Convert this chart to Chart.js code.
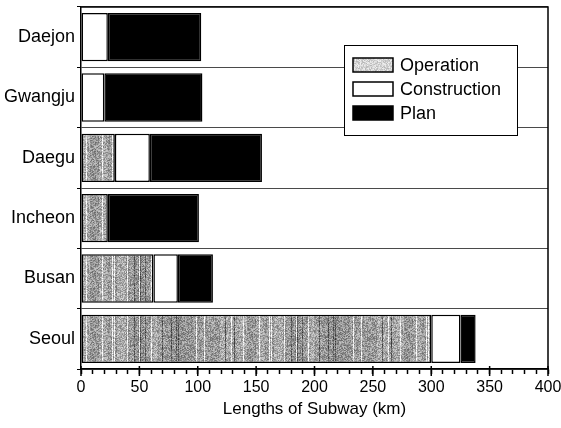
<!DOCTYPE html>
<html>
<head>
<meta charset="utf-8">
<script src="https://cdn.jsdelivr.net/npm/chart.js@4/dist/chart.umd.min.js"></script>
<style>
  html, body { margin: 0; padding: 0; background: #fff; }
  #wrap { width: 561px; height: 428px; }
</style>
</head>
<body>
<div id="wrap"><canvas id="c" width="561" height="428"></canvas></div>
<script>
// Subway lengths by city (km)
const cities = ['Daejon', 'Gwangju', 'Daegu', 'Incheon', 'Busan', 'Seoul'];
const operation = [0, 0, 29, 23, 62, 300];
const construction = [23, 20, 30, 0, 21, 25];
const plan = [80, 84, 96, 78, 30, 13];
const seriesNames = ['Operation', 'Construction', 'Plan'];
const xMajorTicks = [0, 50, 100, 150, 200, 250, 300, 350, 400];

const FONT = "'Liberation Sans', Arial, Helvetica, sans-serif";

// Grainy, streaked gray texture for the "Operation" fill
function hash(n) {
  n = (n ^ 61) ^ (n >>> 16);
  n = n + (n << 3);
  n = n ^ (n >>> 4);
  n = Math.imul(n, 0x27d4eb2d);
  n = n ^ (n >>> 15);
  return (n >>> 0) / 4294967296;
}
function grainPattern(base, spread, streaks) {
  const w = 157, h = 61;
  const cv = document.createElement('canvas');
  cv.width = w; cv.height = h;
  const g = cv.getContext('2d');
  const img = g.createImageData(w, h);
  for (let x = 0; x < w; x++) {
    let col = base;
    if (streaks) {
      const s = hash(x * 7 + 11);
      if (s > 0.91) col = base + 85;
      else if (s < 0.06) col = base - 60;
      else col = base + (hash(Math.floor(x / 9) + 500) - 0.5) * 40;
    }
    for (let y = 0; y < h; y++) {
      let v = col + (hash(x * 1009 + y * 31 + 7) - 0.5) * spread;
      v = Math.max(0, Math.min(255, v));
      const i = (y * w + x) * 4;
      img.data[i] = img.data[i + 1] = img.data[i + 2] = v;
      img.data[i + 3] = 255;
    }
  }
  g.putImageData(img, 0, 0);
  return document.getElementById('c').getContext('2d').createPattern(cv, 'repeat');
}
const opFill = grainPattern(155, 90, true);
const opLegendFill = grainPattern(212, 60, false);

// Frame, longer major ticks and the inset legend
const decorations = {
  id: 'decorations',
  afterDraw(chart) {
    const ctx = chart.ctx;
    const a = chart.chartArea;
    const xs = chart.scales.x;
    ctx.save();
    ctx.strokeStyle = '#000';
    ctx.lineWidth = 1.5;
    ctx.beginPath();
    ctx.moveTo(a.left, a.top);
    ctx.lineTo(a.right, a.top);
    ctx.lineTo(a.right, a.bottom);
    ctx.stroke();

    xMajorTicks.forEach(v => {
      const px = xs.getPixelForValue(v);
      ctx.beginPath();
      ctx.moveTo(px, a.bottom - 3);
      ctx.lineTo(px, a.bottom + 7);
      ctx.stroke();
    });

    // legend box
    const bx = 344, by = 45, bw = 173, bh = 90;
    ctx.fillStyle = '#fff';
    ctx.fillRect(bx, by, bw, bh);
    ctx.lineWidth = 1;
    ctx.strokeRect(bx + 0.5, by + 0.5, bw, bh);
    const fills = [opLegendFill, '#fff', '#000'];
    const rows = [65, 89, 113];
    ctx.font = '18px ' + FONT;
    ctx.textBaseline = 'middle';
    ctx.textAlign = 'left';
    chart.data.datasets.forEach((ds, i) => {
      const cy = rows[i];
      ctx.fillStyle = fills[i];
      ctx.fillRect(353, cy - 7, 40, 14);
      ctx.lineWidth = 1.5;
      ctx.strokeRect(353, cy - 7, 40, 14);
      ctx.fillStyle = '#000';
      ctx.fillText(ds.label, 400, cy + 1);
    });
    ctx.restore();
  }
};

const barCommon = {
  borderColor: '#000',
  borderWidth: 1.5,
  borderSkipped: false,
  barPercentage: 0.8,
  categoryPercentage: 1.0
};

new Chart(document.getElementById('c'), {
  type: 'bar',
  data: {
    labels: cities,
    datasets: [
      Object.assign({ label: seriesNames[0], data: operation, backgroundColor: opFill }, barCommon),
      Object.assign({ label: seriesNames[1], data: construction, backgroundColor: '#fff' }, barCommon),
      Object.assign({ label: seriesNames[2], data: plan, backgroundColor: '#000' }, barCommon)
    ]
  },
  options: {
    indexAxis: 'y',
    responsive: false,
    animation: false,
    events: [],
    layout: { padding: { left: 0, right: 0, top: 7, bottom: 0 } },
    plugins: {
      legend: { display: false },
      tooltip: { enabled: false }
    },
    scales: {
      x: {
        stacked: true,
        min: 0,
        max: 400,
        afterFit(s) {
          s.height = 59;
          s.paddingLeft = 0;
          s.paddingRight = 13;
        },
        afterBuildTicks(s) {
          const t = [];
          for (let v = 0; v <= 400; v += 10) t.push({ value: v });
          s.ticks = t;
        },
        grid: {
          drawOnChartArea: false,
          color: '#000',
          tickLength: 5,
          tickWidth: 1.5
        },
        border: { color: '#000', width: 1.5 },
        ticks: {
          autoSkip: false,
          maxRotation: 0,
          color: '#000',
          padding: 4,
          font: { family: FONT, size: 16 },
          callback: v => (v % 50 === 0 ? String(v) : '')
        },
        title: {
          display: true,
          text: 'Lengths of Subway (km)',
          color: '#000',
          font: { family: FONT, size: 17 },
          padding: { top: 0, bottom: 8 }
        }
      },
      y: {
        stacked: true,
        afterFit(s) {
          s.width = 81;
          s.paddingTop = 0;
          s.paddingBottom = 0;
        },
        grid: {
          offset: true,
          color: '#4a4a4a',
          lineWidth: 1,
          tickLength: 4,
          tickColor: '#000'
        },
        border: { color: '#000', width: 1.5 },
        ticks: {
          color: '#000',
          padding: 2,
          font: { family: FONT, size: 18 }
        }
      }
    }
  },
  plugins: [decorations]
});
</script>
</body>
</html>
